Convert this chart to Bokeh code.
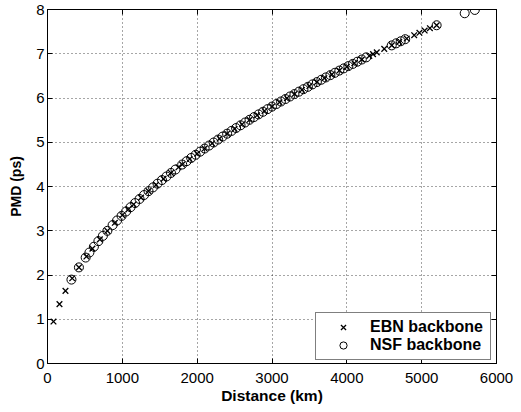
from bokeh.plotting import figure
from bokeh.models import Range1d, LinearAxis, Legend, LegendItem, FixedTicker, ColumnDataSource
from bokeh.embed import file_html
from bokeh.resources import INLINE

# EBN backbone (x markers)
ebn_dist = [80, 160, 240, 330, 420, 520, 600, 700, 800, 900, 1000, 1080, 1150, 1250, 1350,
            1450, 1550, 1650, 1750, 1800, 1900, 2000, 2100, 2200, 2300, 2400, 2500, 2600,
            2700, 2800, 2900, 3000, 3100, 3200, 3300, 3400, 3500, 3600, 3700, 3800, 3900,
            4000, 4100, 4200, 4300, 4350, 4400, 4500, 4600, 4700, 4800, 4900, 4970, 5040,
            5110, 5200]
ebn_pmd = [0.948, 1.341, 1.642, 1.926, 2.172, 2.417, 2.596, 2.805, 2.998, 3.18, 3.352, 3.483,
           3.595, 3.748, 3.895, 4.036, 4.173, 4.306, 4.434, 4.497, 4.620, 4.740, 4.858, 4.972,
           5.084, 5.193, 5.30, 5.405, 5.508, 5.609, 5.708, 5.806, 5.902, 5.996, 6.089, 6.181,
           6.271, 6.36, 6.448, 6.534, 6.620, 6.704, 6.787, 6.870, 6.951, 6.991, 7.031, 7.111,
           7.189, 7.267, 7.344, 7.42, 7.473, 7.525, 7.577, 7.644]

# NSF backbone (circles)
nsf_dist = [320, 420, 510, 560, 620, 680, 740, 800, 870, 930, 990, 1050, 1110, 1170, 1230,
            1290, 1350, 1410, 1470, 1530, 1590, 1650, 1710, 1800, 1860, 1920, 1980, 2040,
            2100, 2160, 2220, 2280, 2340, 2400, 2460, 2520, 2580, 2640, 2700, 2760, 2820,
            2880, 2940, 3000, 3060, 3120, 3180, 3240, 3300, 3360, 3420, 3480, 3540, 3600,
            3660, 3720, 3780, 3840, 3900, 3960, 4020, 4080, 4140, 4200, 4260, 4600, 4660,
            4720, 4780, 5200, 5575, 5710]
nsf_pmd = [1.896, 2.172, 2.394, 2.508, 2.639, 2.764, 2.884, 2.998, 3.127, 3.233, 3.335, 3.435,
           3.532, 3.626, 3.718, 3.807, 3.895, 3.980, 4.064, 4.146, 4.227, 4.306, 4.383, 4.497,
           4.572, 4.645, 4.717, 4.788, 4.858, 4.926, 4.994, 5.061, 5.128, 5.193, 5.257, 5.321,
           5.384, 5.446, 5.508, 5.569, 5.629, 5.689, 5.748, 5.806, 5.864, 5.921, 5.977, 6.034,
           6.089, 6.144, 6.199, 6.253, 6.307, 6.360, 6.413, 6.465, 6.517, 6.569, 6.620, 6.670,
           6.721, 6.771, 6.820, 6.870, 6.919, 7.189, 7.236, 7.282, 7.329, 7.644, 7.915, 7.99]

x_ticks = [0, 1000, 2000, 3000, 4000, 5000, 6000]
y_ticks = [0, 1, 2, 3, 4, 5, 6, 7, 8]

FONT = "Liberation Sans"

p = figure(width=515, height=406, output_backend="svg", toolbar_location=None,
           x_range=Range1d(0, 6000), y_range=Range1d(0, 8),
           min_border_left=47, min_border_right=19, min_border_top=9, min_border_bottom=10)
p.background_fill_color = "white"
p.border_fill_color = "white"
p.outline_line_color = "black"
p.outline_line_width = 1

for ax in (p.xaxis[0], p.yaxis[0]):
    ax.major_label_text_font = FONT
    ax.major_label_text_font_size = "15px"
    ax.major_label_text_color = "black"
    ax.axis_label_text_font = FONT
    ax.axis_label_text_font_style = "bold"
    ax.axis_label_text_color = "black"
    ax.major_tick_in = 5
    ax.major_tick_out = 0
    ax.minor_tick_line_color = None
    ax.axis_line_color = "black"
    ax.major_tick_line_color = "black"

p.xaxis.ticker = FixedTicker(ticks=x_ticks)
p.yaxis.ticker = FixedTicker(ticks=y_ticks)
p.xaxis.axis_label = "Distance (km)"
p.yaxis.axis_label = "PMD (ps)"
p.xaxis.axis_label_text_font_size = "15.5px"
p.yaxis.axis_label_text_font_size = "14px"
p.xaxis.major_label_standoff = 9
p.xaxis.axis_label_standoff = 1
p.yaxis.major_label_standoff = 3
p.yaxis.axis_label_standoff = 9

for loc in ("right", "above"):
    ax = LinearAxis(ticker=FixedTicker(ticks=(y_ticks if loc == "right" else x_ticks)))
    ax.major_label_text_font_size = "1px"
    ax.major_label_text_color = None
    ax.major_label_standoff = 0
    ax.major_tick_in = 5
    ax.major_tick_out = 0
    ax.minor_tick_line_color = None
    ax.axis_line_color = "black"
    ax.major_tick_line_color = "black"
    p.add_layout(ax, loc)

p.grid.grid_line_color = "black"
p.grid.grid_line_dash = "1 3"
p.grid.grid_line_alpha = 0.7
p.grid.grid_line_width = 1

src_e = ColumnDataSource(dict(x=ebn_dist, y=ebn_pmd))
src_n = ColumnDataSource(dict(x=nsf_dist, y=nsf_pmd))
r_e = p.scatter("x", "y", source=src_e, marker="x", size=8, line_color="black", line_width=1.3)
r_n = p.scatter("x", "y", source=src_n, marker="circle", size=9, fill_color=None,
                line_color="black", line_width=1)

legend = Legend(items=[LegendItem(label="EBN backbone", renderers=[r_e]),
                       LegendItem(label="NSF backbone", renderers=[r_n])],
                location=(268, 3))
legend.label_text_font = FONT
legend.label_text_font_style = "bold"
legend.label_text_font_size = "16px"
legend.label_text_color = "black"
legend.border_line_color = "black"
legend.border_line_width = 1
legend.background_fill_color = "white"
legend.background_fill_alpha = 1
legend.padding = 5
legend.spacing = 0
legend.margin = 0
legend.glyph_width = 44
legend.glyph_height = 18
legend.label_height = 18
legend.label_width = 115
legend.label_standoff = 5
p.add_layout(legend, "center")

open("out.html", "w").write(file_html(p, INLINE))
